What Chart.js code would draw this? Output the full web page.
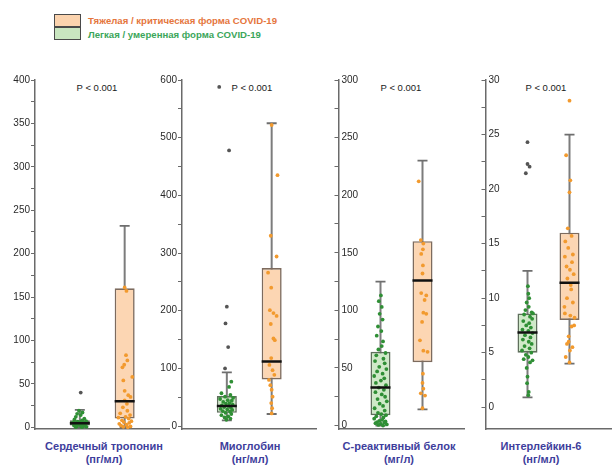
<!DOCTYPE html>
<html>
<head>
<meta charset="utf-8">
<script src="https://cdn.jsdelivr.net/npm/chart.js@4/dist/chart.umd.min.js"></script>
<style>
  html, body { margin: 0; padding: 0; }
  body { width: 614px; height: 465px; position: relative; overflow: hidden; background: #fff;
         font-family: 'Liberation Sans', Arial, sans-serif; }
  canvas { position: absolute; top: 0; }
  .txt { position: absolute; white-space: nowrap; }
  .plab { font-size: 9.5px; color: #1a1a1a; transform: translate(-50%, -50%); }
  .cat { font-size: 11px; font-weight: bold; color: #3e3e9c; text-align: center; line-height: 13px; transform: translateX(-50%); }
  .leg { font-size: 9.6px; font-weight: bold; transform: translateY(-50%); }
  .legbox { position: absolute; left: 54px; width: 25px; height: 11px; border: 1.5px solid #4a4a4a; }
</style>
</head>
<body>
<div class="legbox" style="top:14px; background:#fbd3ae;"></div>
<div class="legbox" style="top:27px; background:#c9e6c0;"></div>
<div id="leg"></div>
<div id="texts"></div>
<canvas id="c0"></canvas>
<canvas id="c1"></canvas>
<canvas id="c2"></canvas>
<canvas id="c3"></canvas>
<script>
// ---------------- DATA ----------------
const groupNames = ['Легкая / умеренная форма COVID-19', 'Тяжелая / критическая форма COVID-19'];
const panelTitles = [['Сердечный тропонин', '(пг/мл)'], ['Миоглобин', '(нг/мл)'], ['С-реактивный белок', '(мг/л)'], ['Интерлейкин-6', '(нг/мл)']];
const pValues = ['P < 0.001', 'P < 0.001', 'P < 0.001', 'P < 0.001'];

// box stats: [lower whisker, Q1, median, Q3, upper whisker]
const tropMildBox = [0, 2, 4.5, 8, 20];
const tropSevereBox = [0, 10, 30, 160, 232];
const myoMildBox = [10, 23, 35, 52, 93];
const myoSevereBox = [21, 81, 112, 274, 525];
const crpMildBox = [0, 9, 33, 64, 125];
const crpSevereBox = [14, 55, 126, 160, 230];
const il6MildBox = [0.9, 5, 6.85, 8.6, 12.5];
const il6SevereBox = [4, 8, 11.4, 16, 25];

// y axis: [min, max, minor step, labelled step]
const tropAxis = [-2, 400, 25, 50];
const myoAxis = [-5, 600, 50, 100];
const crpAxis = [-3, 300, 25, 50];
const il6Axis = [-2, 30, 2.5, 5];

// individual observations (value) and horizontal jitter (category units)
const tropMildVals = [19, 17, 15.5, 14, 12, 10, 9, 8, 7, 6.5, 6, 5.5, 5, 4.5, 4, 3.5, 3, 2.5, 2, 1.5, 1, 0.8, 0.5, 0.3, 0];
const tropMildJit  = [-0.02, 0.06, -0.06, 0.02, -0.09, 0.1, -0.12, 0.05, 0.14, -0.05, 0.02, -0.15, 0.09, -0.1, 0.12, 0, -0.04, 0.07, -0.13, 0.11, -0.07, 0.03, 0.15, -0.09, 0.05];
const tropMildOut  = [40];
const tropMildOutJit = [0.02];
const tropSevereVals = [161, 157, 83, 77, 72, 69, 58, 54, 42, 37, 35, 31, 27, 23, 19, 16, 14, 12, 11, 10, 8, 7, 6, 5, 4, 3, 2, 1, 0.5, 0];
const tropSevereJit  = [0, 0.04, 0.03, 0.06, -0.01, -0.05, 0.17, -0.03, 0, 0.08, 0.13, 0, 0.05, -0.04, 0.06, -0.1, 0.12, 0.02, -0.14, 0.09, -0.06, 0.15, -0.02, 0.1, -0.12, 0.04, -0.08, 0.13, -0.03, 0.07];

const myoMildVals = [77, 68, 57, 54, 51, 49, 47, 45, 44, 42, 40, 39, 37, 36, 35, 33, 32, 30, 29, 28, 26, 25, 23, 21, 19, 17, 15, 13, 11];
const myoMildJit  = [0.1, 0.05, -0.12, 0.08, -0.04, 0.14, -0.15, 0.02, 0.11, -0.08, 0.06, -0.02, 0.13, -0.11, 0.04, -0.06, 0.09, -0.14, 0.01, 0.12, -0.09, 0.07, -0.03, 0.1, -0.12, 0.03, -0.05, 0.08, -0.01];
const myoMildOut  = [588, 478, 207, 178, 137, 100];
const myoMildOutJit = [-0.17, 0.05, 0, -0.03, 0.03, -0.04];
const myoSevereVals = [522, 435, 330, 294, 266, 240, 201, 196, 191, 177, 152, 149, 118, 106, 97, 89, 80, 71, 63, 51, 40, 31, 22];
const myoSevereJit  = [0, 0.13, -0.02, 0.11, -0.08, -0.01, -0.04, 0.04, 0.11, -0.02, 0.04, 0.07, -0.01, -0.05, 0.02, 0.06, -0.06, -0.03, 0, 0.02, -0.01, 0.01, 0];

const crpMildVals = [113, 108, 103, 97, 92, 86, 82, 78, 73, 69, 66, 63, 61, 58, 56, 54, 51, 49, 47, 45, 43, 41, 39, 37, 35, 33, 31, 29, 27, 25, 23, 21, 19, 17, 15, 13, 11, 10, 9, 8, 7, 6, 5, 4, 3.5, 3, 2.5, 2, 1.5, 1, 0.5, 0];
const crpMildJit  = [0.01, -0.04, 0.03, -0.02, 0.05, -0.06, 0.02, -0.09, 0.06, 0.03, -0.05, 0.12, -0.1, 0.07, -0.13, 0.1, -0.03, 0.14, -0.08, 0.05, -0.15, 0.09, 0.01, -0.11, 0.13, -0.04, 0.08, -0.12, 0.03, 0.11, -0.07, 0.15, -0.02, 0.06, -0.14, 0.1, -0.06, 0.02, 0.13, -0.1, 0.07, -0.15, 0.04, -0.03, 0.12, -0.08, 0.09, -0.12, 0.01, 0.15, -0.05, 0.06];
const crpSevereVals = [212, 161, 158, 153, 149, 139, 132, 115, 113, 109, 98, 97, 90, 74, 65, 64, 45, 37, 32, 28, 26, 15];
const crpSevereJit  = [-0.09, -0.04, 0.02, 0.01, -0.03, 0.01, 0, -0.03, 0.09, 0.05, 0.02, 0.09, -0.01, -0.06, 0.02, 0.12, 0.01, 0, 0.02, -0.04, 0.06, 0];

const il6MildVals = [11.1, 10.4, 10.0, 9.6, 9.2, 8.9, 8.7, 8.6, 8.5, 8.3, 8.1, 7.9, 7.7, 7.5, 7.3, 7.1, 7.0, 6.8, 6.6, 6.4, 6.2, 6.0, 5.8, 5.6, 5.4, 5.2, 5.0, 4.8, 4.6, 4.4, 4.3, 4.1, 3.6, 2.8, 2.2, 1.4, 1.1];
const il6MildJit  = [0.01, 0.02, 0.04, -0.02, 0.03, -0.05, 0.1, 0.13, -0.08, 0.06, 0.11, -0.1, 0.04, -0.03, 0.08, -0.12, 0.02, 0.12, -0.06, 0.07, -0.11, 0.03, 0.1, -0.07, 0.05, -0.13, 0.09, -0.04, 0.02, -0.09, 0.12, 0.06, -0.02, 0, -0.01, 0.03, 0.02];
const il6MildOut  = [24.3, 22.3, 22.05, 21.45];
const il6MildOutJit = [0, 0, 0.05, -0.04];
const il6SevereVals = [28.1, 23.1, 20.8, 19.7, 16.4, 15.7, 15.2, 14.6, 14.0, 13.8, 13.3, 12.9, 12.6, 12.2, 11.8, 11.2, 10.8, 10.0, 9.6, 9.2, 8.6, 8.4, 8.2, 7.5, 7.4, 6.5, 6.0, 5.8, 5.5, 5.2, 4.6, 4.1];
const il6SevereJit  = [0, -0.08, 0.02, 0, -0.04, 0.05, -0.1, -0.03, 0.08, -0.11, 0.06, -0.07, 0.01, 0.1, -0.05, 0.03, 0.04, -0.06, 0.08, -0.12, -0.11, 0.02, 0.12, 0.11, 0.05, -0.02, -0.02, -0.06, 0.07, 0.01, -0.09, 0];

// ---------------- STYLE / LAYOUT ----------------
const MILD_FILL = '#cfe9c8', MILD_EDGE = '#5f6f5c', MILD_PT = '#2f8f35';
const SEV_FILL = '#fcd6b3', SEV_EDGE = '#7d6b5e', SEV_PT = '#f29a2e';
const OUT_PT = '#555555';
const AXIS_C = '#6a6a6a';
Chart.defaults.font.family = "'Liberation Sans', Arial, sans-serif";

const panels = [
  { id: 'c0', axisX: 35,  axisW: 35, mirror: false, axis: tropAxis, mild: tropMildBox, sev: tropSevereBox,
    mv: tropMildVals, mj: tropMildJit, ov: tropMildOut, oj: tropMildOutJit, sv: tropSevereVals, sj: tropSevereJit,
    titleX: 104, pX: 97 },
  { id: 'c1', axisX: 182, axisW: 30, mirror: false, axis: myoAxis, mild: myoMildBox, sev: myoSevereBox,
    mv: myoMildVals, mj: myoMildJit, ov: myoMildOut, oj: myoMildOutJit, sv: myoSevereVals, sj: myoSevereJit,
    titleX: 250, pX: 252 },
  { id: 'c2', axisX: 330, axisW: 4, mirror: true, axis: crpAxis, mild: crpMildBox, sev: crpSevereBox,
    mv: crpMildVals, mj: crpMildJit, ov: [], oj: [], sv: crpSevereVals, sj: crpSevereJit,
    titleX: 399, pX: 401 },
  { id: 'c3', axisX: 477, axisW: 4, mirror: true, axis: il6Axis, mild: il6MildBox, sev: il6SevereBox,
    mv: il6MildVals, mj: il6MildJit, ov: il6MildOut, oj: il6MildOutJit, sv: il6SevereVals, sj: il6SevereJit,
    titleX: 541, pX: 546 }
];

const PANEL_W = 147, H = 465, TOP = 80, BASE = 429;

function pts(pos, vals, jit) { return vals.map((v, i) => ({ x: pos + jit[i], y: v })); }

panels.forEach((p, idx) => {
  const cv = document.getElementById(p.id);
  cv.width = p.axisW + PANEL_W;
  cv.height = H;
  cv.style.left = (p.axisX - p.axisW) + 'px';
  const [ymin, ymax, minor, major] = p.axis;
  new Chart(cv, {
    type: 'bar',
    data: {
      datasets: [
        { type: 'bar', order: 5, grouped: false, maxBarThickness: 2,
          data: [{ x: 1, y: [p.mild[0], p.mild[4]] }, { x: 2, y: [p.sev[0], p.sev[4]] }],
          backgroundColor: '#7c7c7c', borderWidth: 0 },
        { type: 'bar', order: 4, grouped: false, maxBarThickness: 20,
          data: [{ x: 1, y: [p.mild[1], p.mild[3]] }, { x: 2, y: [p.sev[1], p.sev[3]] }],
          backgroundColor: [MILD_FILL, SEV_FILL], borderColor: [MILD_EDGE, SEV_EDGE],
          borderWidth: 1.6, borderSkipped: false },
        { type: 'scatter', order: 3,
          data: [{ x: 1, y: p.mild[0] }, { x: 1, y: p.mild[4] }, { x: 2, y: p.sev[0] }, { x: 2, y: p.sev[4] }],
          pointStyle: 'line', pointRadius: 5, borderColor: '#6e6e6e', borderWidth: 1.8 },
        { type: 'scatter', order: 2, data: pts(1, p.mv, p.mj),
          pointRadius: 1.9, backgroundColor: MILD_PT, borderWidth: 0 },
        { type: 'scatter', order: 2, data: pts(1, p.ov, p.oj),
          pointRadius: 1.9, backgroundColor: OUT_PT, borderWidth: 0 },
        { type: 'scatter', order: 2, data: pts(2, p.sv, p.sj),
          pointRadius: 1.9, backgroundColor: SEV_PT, borderWidth: 0 },
        { type: 'scatter', order: 1,
          data: [{ x: 1, y: p.mild[2] }, { x: 2, y: p.sev[2] }],
          pointStyle: 'line', pointRadius: 10, borderColor: '#111', borderWidth: 2.5 }
      ]
    },
    options: {
      responsive: false, animation: false, devicePixelRatio: 1,
      layout: { padding: { top: TOP, bottom: H - BASE, left: 0, right: 0 } },
      plugins: { legend: { display: false }, tooltip: { enabled: false }, title: { display: false } },
      scales: {
        x: { type: 'linear', min: 0, max: 3, offset: false,
             grid: { display: false }, ticks: { display: false },
             border: { display: true, color: AXIS_C, width: 1.5 },
             afterFit: s => { s.height = 0; } },
        y: { type: 'linear', position: 'left', min: ymin, max: ymax,
             grid: { display: true, drawOnChartArea: false, drawTicks: true, tickLength: 4, color: AXIS_C, lineWidth: 1 },
             border: { display: true, color: AXIS_C, width: 1.5 },
             ticks: { stepSize: minor, includeBounds: false, mirror: p.mirror, padding: p.mirror ? 3 : 1,
                      color: '#2a2a2a', font: { size: 10 },
                      callback: v => (Math.abs(v / major - Math.round(v / major)) < 1e-6 ? String(v) : '') },
             afterFit: s => { s.width = p.axisW; } }
      }
    }
  });
});

// ---------------- TEXT ----------------
const texts = document.getElementById('texts');
panels.forEach((p, i) => {
  const pl = document.createElement('div');
  pl.className = 'txt plab';
  pl.style.left = p.pX + 'px'; pl.style.top = '87px';
  pl.textContent = pValues[i];
  texts.appendChild(pl);
  const ct = document.createElement('div');
  ct.className = 'txt cat';
  ct.style.left = p.titleX + 'px'; ct.style.top = '440px';
  ct.innerHTML = panelTitles[i][0] + '<br>' + panelTitles[i][1];
  texts.appendChild(ct);
});
const leg = document.getElementById('leg');
[[groupNames[1], '#e5763d', 20], [groupNames[0], '#3ba65a', 34]].forEach(([t, c, y]) => {
  const d = document.createElement('div');
  d.className = 'txt leg';
  d.style.left = '88px'; d.style.top = y + 'px'; d.style.color = c;
  d.textContent = t;
  leg.appendChild(d);
});
</script>
</body>
</html>
